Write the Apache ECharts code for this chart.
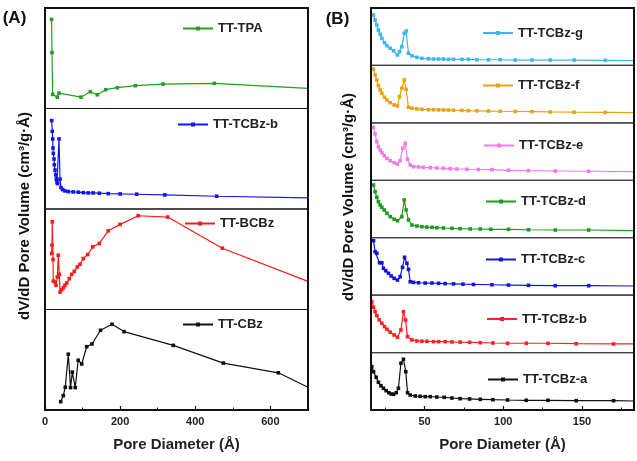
<!DOCTYPE html>
<html><head><meta charset="utf-8">
<script src="https://cdn.jsdelivr.net/npm/echarts@6/dist/echarts.min.js"></script>
<style>html,body{margin:0;padding:0;background:#fff}#c{width:637px;height:461px}</style>
</head><body><div id="c"></div>
<script>
// ---------- Panel A data (Pore Diameter in Å, relative dV/dD) ----------
const tpaX = [17.5,18.5,20.5,32.7,37.3,95.8,120.6,139.2,161.6,192.4,240.3,314,450.6,700];
const tpaY = [88.7,55.7,14,11.3,15.3,11.3,16.7,13.7,18.7,20.7,22.7,24.3,25,20];
const aTcbzbX = [17.8,19.4,20.5,21.3,22.1,24,24.8,26.6,28.5,30.1,31.9,33.8,37.3,40,42.6,47,53,62,75,88.6,102,115,128,144.5,168.5,200,244,319,457,700];
const aTcbzbY = [88,77.3,69.7,60.7,55.3,49.7,44,38.7,34,29.7,26.3,25.3,69.7,29.7,21.3,19.3,18,17.3,17,16.7,16.3,16,16,15.7,15.3,15,14.7,14,12.7,11];
const bcbzX = [17.8,18.6,19.4,21.3,22.1,26.6,29.3,32.7,35.4,38,40,44.4,48.7,53,57.8,64.7,71,78,86,93,102,113.6,127,144.5,168.5,200,248,326.6,472,700];
const bcbzY = [55.7,64,87.3,49.7,28.3,27.3,24,32.3,54,35,17.3,19.7,21.7,24,26.3,30.7,35,38,42.3,45,50.7,54.7,62.3,65.7,78.3,84.7,93.3,92,61,28];
const cbzX = [41.8,48.7,54,62,68,72.7,80.4,88.4,97.7,111,125,147.7,178.3,210.3,341.5,474.6,621,700];
const cbzY = [8.3,14.3,22.7,55.5,22.3,37.7,22.3,49.5,45.8,63,65.7,79.3,85.3,78,64.3,46.7,37,22.7];

// ---------- Panel B data ----------
const gX = [17.6,18.6,19.7,20.7,21.8,22.9,24.6,26.1,28.2,30.3,32.8,34.1,35.6,37.1,38.3,39.8,42,45.1,48.3,52.5,55.7,58.9,62,65.2,68.4,73.7,77.9,83.3,90.6,98,107.6,118.2,129.8,145,164.8,183];
const gY = [87.8,79.1,70.4,61.7,54.2,47.2,39.5,34.3,29.8,25.6,18.1,23.9,32.6,55.9,59.9,21.1,16.9,14.1,12.4,11.7,11.1,11.1,11.1,10.6,10.6,10.6,10.6,9.9,9.9,9.9,9.4,9.4,9.4,9.4,8.9,8.2];
const fX = [17.6,18.6,19.7,20.7,21.8,22.9,24.6,26.1,28.2,30.7,32.8,34.1,35.6,37.1,38.3,39.8,42,45.1,48.3,52.5,55.7,58.9,62,65.2,68.4,73.7,77.9,83.3,90.6,98,107.6,118.2,129.8,145,164.8,183];
const fY = [93.4,83.4,74.7,64.8,57.3,51.6,44.6,39.9,35.2,31.2,29.4,45.6,60.3,74.7,58.5,27.2,25.4,24.2,23.6,23.0,22.8,22.6,22.5,22.3,22.0,21.7,21.3,21.0,20.6,20.2,19.8,19.5,19.0,18.6,18.2,17.8];
const eX = [17.6,18.6,19.7,20.7,21.8,22.9,24.4,26.1,28.2,30.7,32.8,34.5,36.2,37.7,39.2,40.9,43,46.2,49.3,53.6,57.8,62,66.3,70.5,76.9,84.2,92.8,103.3,116,133,154.2,183];
const eY = [92.3,80.7,67.2,58.5,52.8,48.1,42.9,38.3,34.1,30.7,28.4,34.1,55.7,64.5,36.6,26.7,23.7,23.2,22.6,22.0,21.4,20.9,20.2,19.7,19.2,18.8,18.5,17.4,16.7,16.2,15.7,15.0];
const dX = [17.6,18.6,19.7,20.7,21.8,22.9,24.4,26.1,28.2,30.7,32.8,35.6,37.1,38.3,39.8,42,45.1,48.3,51.5,54.7,57.8,62,67.4,72.6,79,85.4,92.1,103.3,116,133,154.2,183];
const dY = [91.8,80.1,70.4,62.7,57,53,48.3,42.5,36.6,32.1,29.6,36.6,65.7,48.3,30.8,22.1,20.4,19.2,18.6,18.1,17.4,16.9,16.4,15.7,15.2,15.2,14.6,14.6,13.9,13.4,13.4,12.2];
const cX = [17.6,18.6,19.7,21.4,22.9,23.9,25.4,27.1,28.8,30.7,32.8,34.5,36,37.3,38.8,39.8,40.9,43,46.2,50.4,54.7,58.9,63.1,68.4,74.4,81.1,92.8,103.3,116,133,154.2,183];
const cY = [94.8,75.6,72.8,56.4,56.4,46.7,42.5,38,33.3,29.3,26.3,32.1,48.4,65.9,55.4,44.9,23.3,22.3,21.6,21.1,21.1,20.6,20.1,19.6,19.1,18.6,18.1,17.6,17.1,16.4,16.4,15.9];
const bX = [16.5,17.6,18.6,19.7,21.2,22.9,24.6,26.1,28.2,30.7,32.8,35,36.6,37.9,39.2,42,45.1,48.3,51.5,55.7,58.9,63.1,67.4,72.6,78.6,85.4,93.4,102.7,114.6,128.4,146.3,170,183];
const bY = [88.7,78.9,71.3,64.3,56.8,51,45.1,40.6,35.4,30.7,26.7,39.4,71.3,56.8,27.7,22,20.2,19.7,19.7,19,19,19,18.5,18.2,17.9,17.2,16.7,16.2,16.2,16.2,15.5,15,15];
const aX = [16.5,17.6,19.3,20.7,22.3,23.9,25.6,27.3,28.8,30.3,32,33.4,35,36.6,38.1,39.2,40.9,44.1,47.2,50.4,53.6,57.8,62.5,67.4,72.6,78.6,85.4,93.4,102.7,114.6,128.4,146.3,170,183];
const aY = [75.4,66.7,57,48.3,42.3,37.8,33.6,30.1,27.9,27.4,30.1,37.8,81.4,88.3,66.7,30.1,26.1,24.4,23.9,23.2,23.2,22.6,22.1,20.9,19.7,19.2,18.6,17.9,17.4,16.9,16.9,16.2,16.2,15.7];

// ---------- tick labels ----------
const aTickLabels = [0,200,400,600];
const aMinorTicks = [100,300,500,700];
const bTickLabels = [50,100,150];
const bMinorTicks = [25,75,125,175];

const seriesA = [
  {name:'TT-TPA', x:tpaX, y:tpaY, color:'#22a022', lc:29},
  {name:'TT-TCBz-b', x:aTcbzbX, y:aTcbzbY, color:'#1414f0', lc:125},
  {name:'TT-BCBz', x:bcbzX, y:bcbzY, color:'#ff1a1a', lc:224},
  {name:'TT-CBz', x:cbzX, y:cbzY, color:'#111111', lc:325}
];
const legLeftA = [182,177,184,182];
const seriesB = [
  {name:'TT-TCBz-g', x:gX, y:gY, color:'#3db5ef', lc:33.5},
  {name:'TT-TCBz-f', x:fX, y:fY, color:'#e9a212', lc:86},
  {name:'TT-TCBz-e', x:eX, y:eY, color:'#ee7bee', lc:146},
  {name:'TT-TCBz-d', x:dX, y:dY, color:'#1e9a1e', lc:202},
  {name:'TT-TCBz-c', x:cX, y:cY, color:'#1515e0', lc:260},
  {name:'TT-TCBz-b', x:bX, y:bY, color:'#ff2020', lc:319.5},
  {name:'TT-TCBz-a', x:aX, y:aY, color:'#111111', lc:380}
];
const legLeftB = [482,482,483,485,485,486,487];

const FONT = '"Liberation Sans", Arial, sans-serif';
const grids = [], xAxes = [], yAxes = [], series = [], legends = [];
const zip = (xs, ys) => xs.map((v,i)=>[v, ys[i]]);

function addPanel(list, left, width, top, totalH, xmin, xmax, labels, minor, legLeft, tag, borderColor) {
  const n = list.length, h = totalH / n;
  list.forEach((s, i) => {
    const gi = grids.length;
    grids.push({left:left, width:width, top:top + i*h, height:h, show:true,
      borderColor:borderColor, borderWidth:1.2, backgroundColor:'transparent'});
    const bottom = i === n-1;
    xAxes.push({type:'value', gridIndex:gi, min:xmin, max:xmax, position:'bottom',
      show: bottom,
      axisLine:{show:false}, splitLine:{show:false},
      axisTick:{show:bottom, inside:true, length:4, customValues:labels, lineStyle:{color:'#111', width:1.2}},
      axisLabel:{show:bottom, customValues:labels, fontFamily:FONT, fontWeight:'bold', fontSize:11, color:'#222', margin:6},
      name: bottom ? 'Pore Diameter (Å)' : '', nameLocation:'middle', nameGap:27,
      nameTextStyle:{fontFamily:FONT, fontWeight:'bold', fontSize:15, color:'#222'}});
    if (bottom) {
      xAxes.push({type:'value', gridIndex:gi, min:xmin, max:xmax, position:'bottom', offset:0,
        axisLine:{show:false}, splitLine:{show:false}, axisLabel:{show:false},
        axisTick:{show:true, inside:true, length:2.5, customValues:minor, lineStyle:{color:'#111', width:1}}});
    }
    yAxes.push({type:'value', gridIndex:gi, min:0, max:100, show:false});
    const sname = s.name + tag;
    const last = s.x.length - 1;
    series.push({type:'line', name:sname, xAxisIndex: xAxes.length - (bottom?2:1), yAxisIndex:gi,
      data: zip(s.x, s.y), symbol:'rect',
      symbolSize: (v, p) => (p.dataIndex === last ? 0 : 3.6), showAllSymbol:true,
      lineStyle:{width:1.2, color:s.color}, itemStyle:{color:s.color}, animation:false, z:3});
    legends.push({data:[sname], left:legLeft[i], top:s.lc - 7, padding:0, itemWidth:30, itemHeight:5,
      selectedMode:false, formatter: nm => nm.replace(tag,''),
      textStyle:{fontFamily:FONT, fontWeight:'bold', fontSize:13, color:'#222'}});
  });
}
addPanel(seriesA, 45, 263, 8, 402, 0, 700, aTickLabels, aMinorTicks, legLeftA, '', '#111');
addPanel(seriesB, 371, 263, 8, 402, 16, 183, bTickLabels, bMinorTicks, legLeftB, ' (B)', '#444');

const yTitle = 'dV/dD Pore Volume (cm³/g·Å)';
const graphic = [
  {type:'rect', shape:{x:45, y:8, width:263, height:402}, style:{fill:'none', stroke:'#111', lineWidth:2}, z:10},
  {type:'rect', shape:{x:371, y:8, width:263, height:402}, style:{fill:'none', stroke:'#111', lineWidth:2}, z:10},
  {type:'text', x:24.5, y:216, rotation:Math.PI/2, style:{text:yTitle, x:0, y:0, align:'center', verticalAlign:'middle', textAlign:'center', textVerticalAlign:'middle', font:'bold 15px ' + FONT, fill:'#111'}},
  {type:'text', x:349, y:197, rotation:Math.PI/2, style:{text:yTitle, x:0, y:0, align:'center', verticalAlign:'middle', textAlign:'center', textVerticalAlign:'middle', font:'bold 15px ' + FONT, fill:'#111'}},
  {type:'text', x:14.5, y:18, style:{text:'(A)', x:0, y:0, align:'center', verticalAlign:'middle', textAlign:'center', textVerticalAlign:'middle', font:'bold 17px ' + FONT, fill:'#111'}},
  {type:'text', x:337.5, y:19, style:{text:'(B)', x:0, y:0, align:'center', verticalAlign:'middle', textAlign:'center', textVerticalAlign:'middle', font:'bold 17px ' + FONT, fill:'#111'}}
];

const chart = echarts.init(document.getElementById('c'));
chart.setOption({animation:false, backgroundColor:'#fff', grid:grids, xAxis:xAxes, yAxis:yAxes,
  series:series, legend:legends, graphic:graphic});
</script></body></html>
